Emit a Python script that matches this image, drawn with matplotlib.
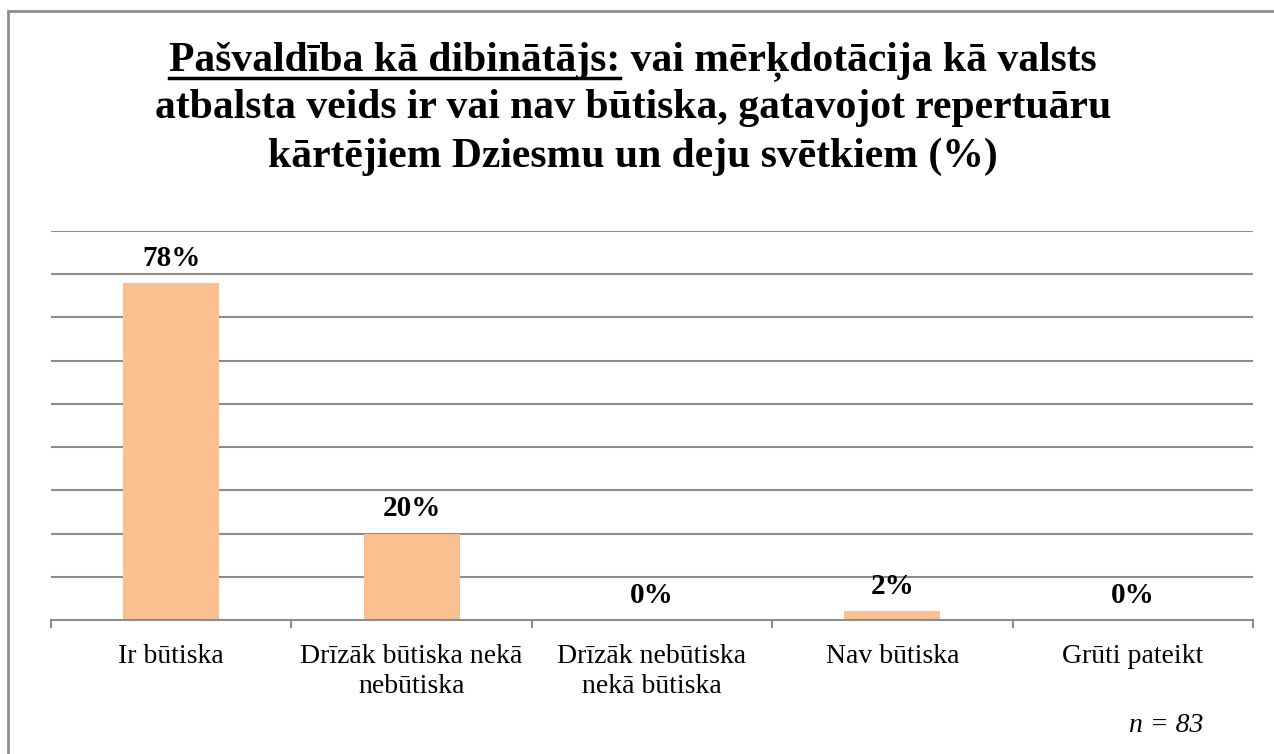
import matplotlib
matplotlib.use("Agg")
import matplotlib.pyplot as plt
from matplotlib.patches import Rectangle
from matplotlib.lines import Line2D

categories = ["Ir būtiska", "Drīzāk būtiska nekā\nnebūtiska", "Drīzāk nebūtiska\nnekā būtiska",
              "Nav būtiska", "Grūti pateikt"]
values = [78, 20, 0, 2, 0]
title_underlined = "Pašvaldība kā dibinātājs:"
title_lines = ["Pašvaldība kā dibinātājs: vai mērķdotācija kā valsts",
               "atbalsta veids ir vai nav būtiska, gatavojot repertuāru",
               "kārtējiem Dziesmu un deju svētkiem (%)"]
note = "n = 83"

plt.rcParams['font.family'] = ['Liberation Serif', 'DejaVu Serif']
W, H = 1274, 754
fig = plt.figure(figsize=(W / 100, H / 100), dpi=100)

# chart frame (only left and top edges are inside the picture)
fig.patches.append(Rectangle((8 / W, -0.1), 1.2, 1 - 11 / H + 0.1, transform=fig.transFigure,
                             fill=False, edgecolor='#8c8c8c', linewidth=2, zorder=0))

ax = fig.add_axes([51 / W, (H - 620) / H, (1253 - 51) / W, (620 - 231) / H])
x = list(range(len(categories)))
ax.bar(x, values, width=0.4, color='#FAC090', zorder=2)
for xi, v in zip(x, values):
    ax.annotate(f"{v}%", (xi, v), xytext=(0, 12.5), textcoords='offset points',
                ha='center', va='baseline', fontsize=21, fontweight='bold')

ax.set_xlim(-0.5, len(categories) - 0.5)
ax.set_ylim(0, 90)
ax.set_yticks(range(10, 91, 10))
ax.yaxis.grid(True, color='#8c8c8c', linewidth=1.5, zorder=0)
ax.tick_params(axis='y', left=False, labelleft=False)
for s in ['left', 'right', 'top']:
    ax.spines[s].set_visible(False)
ax.spines['bottom'].set_color('#8c8c8c')
ax.spines['bottom'].set_linewidth(1.5)
ax.set_xticks(x)
ax.set_xticklabels(categories, fontsize=20, linespacing=1.3)
ax.tick_params(axis='x', length=0, pad=17)
ax.set_xticks([i - 0.5 for i in range(len(categories) + 1)], minor=True)
ax.tick_params(axis='x', which='minor', length=6, width=1.5, color='#8c8c8c')

# title, three lines with the first part underlined
baselines = [70, 118, 167]
cx = 633 / W
texts = []
for line, b in zip(title_lines, baselines):
    t = fig.text(cx, 1 - b / H, line, ha='center', va='baseline', fontsize=30, fontweight='bold')
    texts.append(t)

fig.canvas.draw()
r = fig.canvas.get_renderer()
bb = texts[0].get_window_extent(r)
pre = fig.text(bb.x0 / W, 1 - baselines[0] / H, title_underlined, ha='left', va='baseline',
               fontsize=30, fontweight='bold', alpha=0)
pb = pre.get_window_extent(r)
uy = 1 - (baselines[0] + 8) / H
fig.lines.append(Line2D([pb.x0 / W, pb.x1 / W], [uy, uy], transform=fig.transFigure,
                        color='black', linewidth=2.5))

fig.text(1203 / W, 1 - 732 / H, note, ha='right', va='baseline', fontsize=20, style='italic')

fig.savefig("out.png", dpi=100, facecolor='white')
